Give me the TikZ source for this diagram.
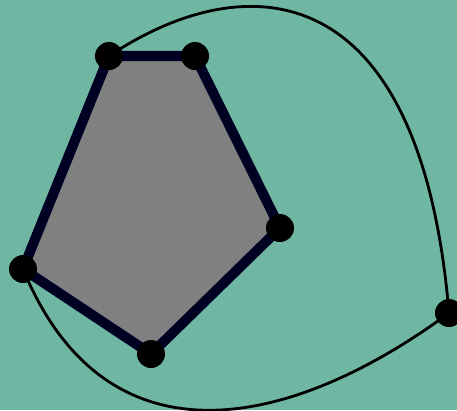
\documentclass[tikz,border=0pt]{standalone}
\usepackage{tikz}
\usepackage{xcolor}
\usetikzlibrary{backgrounds}
\definecolor{bgteal}{RGB}{111,183,162}
\definecolor{edgenavy}{RGB}{0,0,34}
\tikzstyle{vertex} = [circle, fill=black, inner sep=0pt, minimum size=0.56cm]
\tikzstyle{face} = [draw=edgenavy, fill=gray, line width=5.7pt, line join=round]
\tikzstyle{curve} = [draw=black, line width=1.6pt]

\begin{document}
\begin{tikzpicture}[x=0.02cm, y=-0.02cm]
    \useasboundingbox (0,0) rectangle (457,410);

    \node (a) [vertex] at (109,56) {};
    \node (b) [vertex] at (195,56) {};
    \node (c) [vertex] at (280,228) {};
    \node (d) [vertex] at (151,354) {};
    \node (e) [vertex] at (23,269) {};
    \node (f) [vertex] at (449,313) {};

    \begin{pgfonlayer}{background}
        \fill[bgteal] (0,0) rectangle (457,410);
        \draw [face] (a.center) -- (b.center) -- (c.center) -- (d.center) -- (e.center) -- cycle;
        \draw [curve] (a.center) .. controls (244,-34) and (420,-30) .. (f.center);
        \draw [curve] (e.center) .. controls (106,470) and (290,430) .. (f.center);
    \end{pgfonlayer}
\end{tikzpicture}
\end{document}
